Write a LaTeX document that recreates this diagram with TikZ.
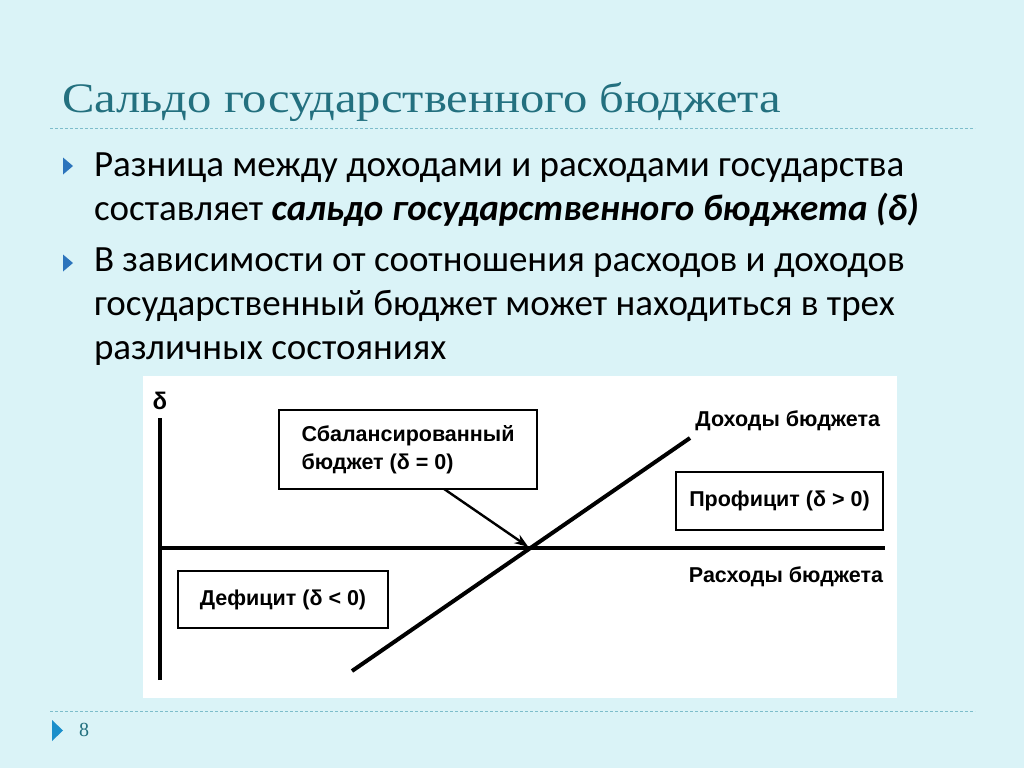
\documentclass[tikz,border=0pt]{standalone}
\usepackage{fontspec}
\setmainfont{Carlito}
\newfontfamily\titlefont[FakeStretch = 1.158]{Liberation Serif}
\newfontfamily\pagefont{Liberation Serif}
\newfontfamily\chartfont{Liberation Sans}
\usepackage{xcolor}
\usetikzlibrary{positioning, arrows.meta, calc}

\definecolor{slidebg}{HTML}{DAF3F7}
\definecolor{titleteal}{HTML}{23707F}
\definecolor{rulecyan}{HTML}{7DBDCB}
\definecolor{bulletblue}{HTML}{2C74BC}
\definecolor{pageblue}{HTML}{1A8FCB}

\begin{document}
\begin{tikzpicture}[ x = 1pt, y = -1pt
                     , >={Stealth[width=10pt, length=14pt]}
                     , every node/.style = { inner sep = 0pt, outer sep = 0pt }
                     , headline/.style = { anchor = base west, text = titleteal
                                         , font = \titlefont\fontsize{42}{50}\selectfont }
                     , bodytext/.style = { anchor = north west, align = left
                                         , font = \fontsize{37}{44}\selectfont }
                     , dashrule/.style = { draw = rulecyan, line width = 1pt
                                         , dash pattern = on 3pt off 2pt }
                     , marker/.style = { fill = bulletblue }
                     , chartline/.style = { line width = 4pt }
                     , statebox/.style = { draw, line width = 2pt, fill = white
                                         , align = left
                                         , font = \chartfont\bfseries\fontsize{21.5}{28}\selectfont }
                     , curvelabel/.style = { font = \chartfont\bfseries\fontsize{21.5}{26}\selectfont }
                     ]

  \path[use as bounding box, fill = slidebg] (0,0) rectangle (1024,768);

  \node (title) [headline] at (62,112) {Сальдо государственного бюджета};
  \coordinate (topL) at (50,128);
  \coordinate (topR) at (975,128);
  \draw[dashrule] (topL) -- (topR);

  \foreach \y in {166, 263}
    \fill[marker] (63,\y-8.5) -- (73,\y) -- (63,\y+8.5) -- cycle;

  \node (pointA) [bodytext] at (94,152.5)
  {Разница между доходами и расходами государства\\
   составляет \textbf{\textit{сальдо государственного бюджета (δ)}}};

  \node (pointB) [bodytext] at (94,247.5)
  {В зависимости от соотношения расходов и доходов\\
   государственный бюджет может находиться в трех\\
   различных состояниях};

  \node (panel) [fill = white, anchor = north west
                , minimum width = 754pt, minimum height = 322pt] at (143,376) {};

  \coordinate (axisbottom) at (160,680);
  \coordinate (axistop) at (160,418);
  \coordinate (spendL) at (160,548);
  \coordinate (spendR) at (885,548);
  \coordinate (incomeL) at (352,671);
  \coordinate (incomeR) at (690,438);
  \coordinate (cross) at (530,548);

  \draw[chartline] (axisbottom) -- (axistop);
  \draw[line width = 3.2pt] (spendL) -- (spendR);
  \draw[chartline] (incomeL) -- (incomeR);

  \node (delta) [curvelabel, font = \chartfont\bfseries\fontsize{24}{28}\selectfont]
  at (160,401) {δ};

  \node (balanced) [statebox, minimum width = 258pt, minimum height = 79pt]
  at (408,449.5) {Сбалансированный\\бюджет (δ = 0)};
  \node (deficit) [statebox, minimum width = 210pt, minimum height = 57pt]
  at (283,599.5) {Дефицит (δ < 0)};
  \node (surplus) [statebox, minimum width = 207pt, minimum height = 58pt]
  at (779.5,501) {Профицит (δ > 0)};

  \node (incomelabel) [curvelabel, anchor = east] at (880,421) {Доходы бюджета};
  \node (spendlabel) [curvelabel, anchor = east] at (883,577) {Расходы бюджета};

  \draw[->, line width = 2.4pt, shorten > = 2pt]
  ($(balanced.south west)!0.64!(balanced.south east)$) -- (cross);

  \coordinate (footL) at (50,711);
  \coordinate (footR) at (975,711);
  \draw[dashrule] (footL) -- (footR);
  \fill[pageblue] (52,720) -- (63,730.5) -- (52,741) -- cycle;
  \node (pagenum) [anchor = west, text = titleteal
                  , font = \pagefont\fontsize{20}{24}\selectfont] at (79,730) {8};

\end{tikzpicture}
\end{document}
